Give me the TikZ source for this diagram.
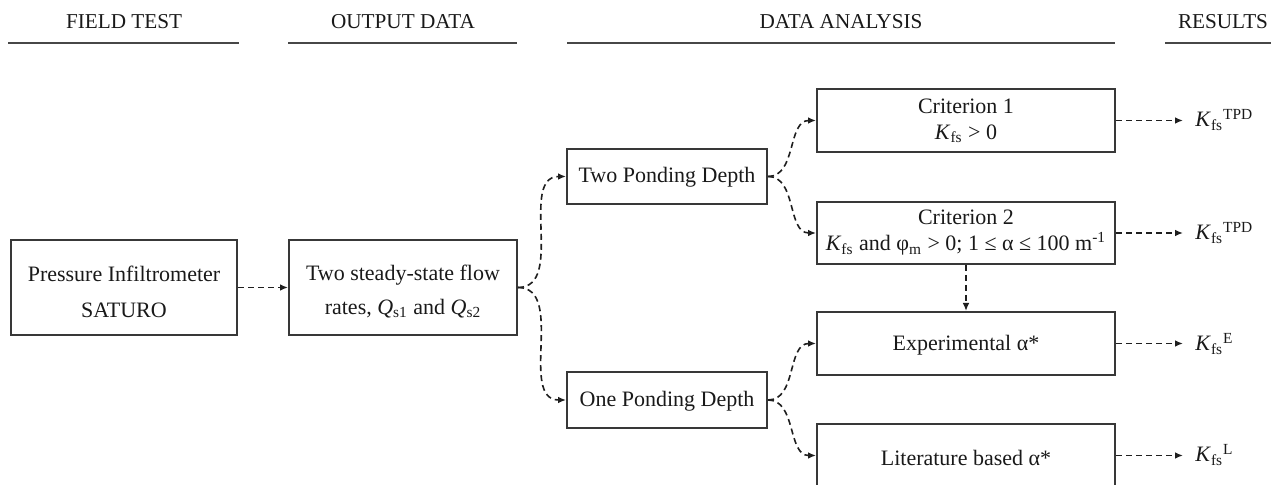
\documentclass[tikz,border=0pt]{standalone}
\usepackage{fontspec}
\setmainfont{Liberation Serif}
\usetikzlibrary{arrows.meta,fit}

\newcommand{\Kfs}{\textit{K}\textsubscript{fs}}

\begin{document}
\begin{tikzpicture}[x=0.5pt,y=-0.5pt,
  every node/.style={font=\fontsize{11}{13}\selectfont, text=black!90},
  box/.style={draw=black!78, line width=1pt, inner sep=0pt},
  txt/.style={align=center, inner sep=0pt},
  head/.style={inner sep=0pt, font=\fontsize{10.6}{12}\selectfont},
  rule/.style={draw=black!72, line width=1pt},
  conn/.style={draw=black!88, line width=0.8pt, dash pattern=on 3pt off 2pt,
               -{Latex[length=4pt,width=3.4pt]}},
  res/.style={inner sep=0pt, anchor=base west},
]
\useasboundingbox (0,0) rectangle (1271,485);
\clip (0,0) rectangle (1271,485);

% column headings
\node[head] (hfield)  at (124,22)  {FIELD TEST};
\node[head] (houtput) at (403,22)  {OUTPUT DATA};
\node[head] (hdata)   at (841,22)  {DATA ANALYSIS};
\node[head] (hres)    at (1223,22) {RESULTS};
\draw[rule] (8,43) -- (239,43);
\draw[rule] (288,43) -- (517,43);
\draw[rule] (567,43) -- (1115,43);
\draw[rule] (1165,43) -- (1275,43);

% boxes
\node[box, fit={(11,240) (237,335)}]  (field)  {};
\node[box, fit={(289,240) (517,335)}] (output) {};
\node[box, fit={(567,149) (767,204)}] (twopd)  {};
\node[box, fit={(567,372) (767,428)}] (onepd)  {};
\node[box, fit={(817,89) (1115,152)}]  (crit1) {};
\node[box, fit={(817,202) (1115,264)}] (crit2) {};
\node[box, fit={(817,312) (1115,375)}] (exper) {};
\node[box, fit={(817,424) (1115,487)}] (liter) {};

% box texts
\node[txt] (fieldtxt)  at ([yshift=-2pt]field.center)  {Pressure Infiltrometer\\[5pt]SATURO};
\node[txt] (outputtxt) at ([yshift=-2pt]output.center) {Two steady-state flow\\[4pt]rates, \textit{Q}\textsubscript{s1} and \textit{Q}\textsubscript{s2}};
\node[txt] (twopdtxt)  at ([yshift=-0.5pt]twopd.center) {Two Ponding Depth};
\node[txt] (onepdtxt)  at ([yshift=-0.5pt]onepd.center) {One Ponding Depth};
\node[txt] (crit1txt)  at (crit1.center) {Criterion 1\\\Kfs\ > 0};
\node[txt] (crit2txt)  at (crit2.center) {Criterion 2\\\Kfs\ and φ\textsubscript{m} > 0; 1 ≤ α ≤ 100 m\textsuperscript{-1}};
\node[txt] (expertxt)  at ([yshift=-1pt]exper.center) {Experimental α*};
\node[txt] (litertxt)  at ([yshift=-1pt]liter.center) {Literature based α*};

% results
\node[res] (k1) at (1195,127) {\Kfs\textsuperscript{TPD}};
\node[res] (k2) at (1195,240) {\Kfs\textsuperscript{TPD}};
\node[res] (k3) at (1195,351) {\Kfs\textsuperscript{E}};
\node[res] (k4) at (1195,462) {\Kfs\textsuperscript{L}};

% connectors
\draw[conn] (field.east) -- (output.west);
\draw[conn] (output.east) to[out=0,in=180] (twopd.west);
\draw[conn] (output.east) to[out=0,in=180] (onepd.west);
\draw[conn] (twopd.east) to[out=0,in=180] (crit1.west);
\draw[conn] (twopd.east) to[out=0,in=180] (crit2.west);
\draw[conn] (onepd.east) to[out=0,in=180] (exper.west);
\draw[conn] (onepd.east) to[out=0,in=180] (liter.west);
\draw[conn] (crit2.south) -- (exper.north);
\draw[conn, shorten >=6pt] (crit1.east) -- (crit1.east -| k1.west);
\draw[conn, shorten >=6pt] (crit2.east) -- (crit2.east -| k2.west);
\draw[conn, shorten >=6pt] (exper.east) -- (exper.east -| k3.west);
\draw[conn, shorten >=6pt] (liter.east) -- (liter.east -| k4.west);
\end{tikzpicture}
\end{document}
